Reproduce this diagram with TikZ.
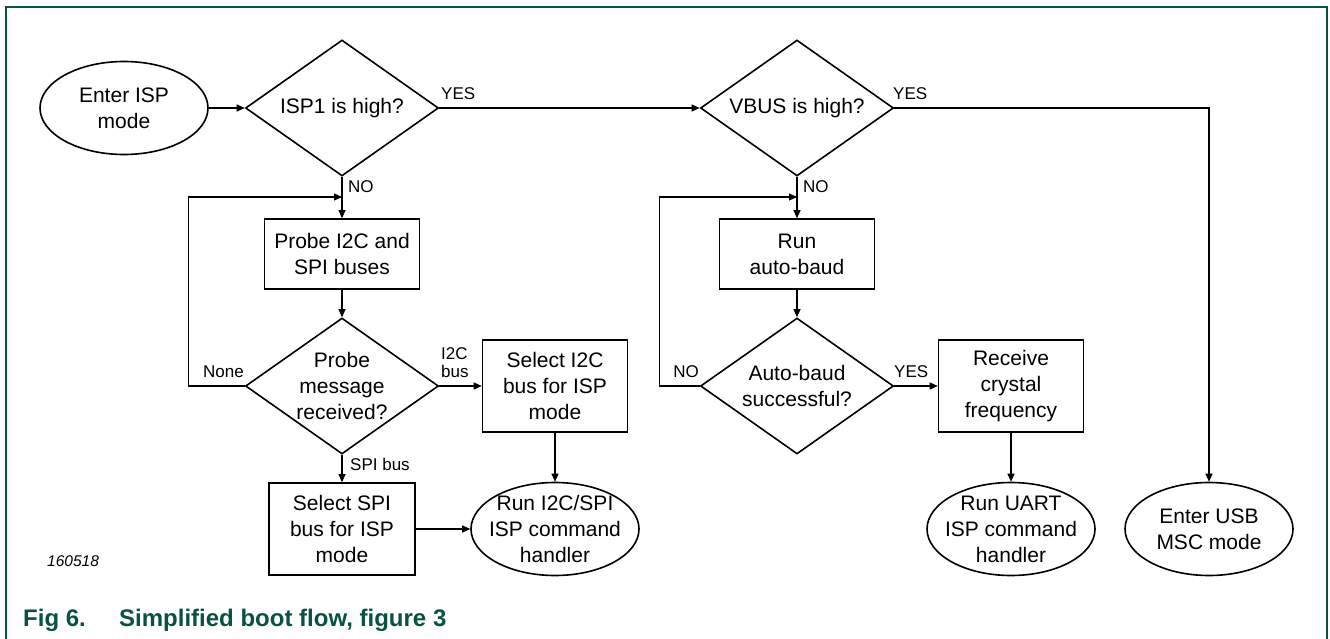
\documentclass[tikz,border=0pt]{standalone}
\usepackage{fontspec}
\setmainfont{Liberation Sans}
\usetikzlibrary{shapes.geometric,arrows.meta}
\definecolor{nxpgreen}{RGB}{8,82,66}
\begin{document}
\begin{tikzpicture}[x=1pt,y=-1pt,
  txt/.style={font=\fontsize{21}{26}\selectfont, align=center, inner sep=0pt},
  lbl/.style={font=\fontsize{17}{18}\selectfont, inner sep=0pt, align=left},
  shp/.style={draw, line width=1.6pt, inner sep=0pt},
  procbox/.style={shp, rectangle},
  termshape/.style={shp, ellipse, minimum width=168pt, minimum height=93pt},
  decide/.style={shp, diamond, minimum width=193pt, minimum height=136pt},
  arr/.style={draw, line width=1.1pt, -{Triangle[length=8pt,width=7pt]}},
  conn/.style={draw, line width=1.1pt}]
\useasboundingbox (0,0) rectangle (1330,639);
% frame
\draw[nxpgreen, line width=1.6pt] (6,639) -- (6,7) -- (1327,7) -- (1327,639);

% left branch
\node[termshape, label={[txt]center:{Enter ISP\\mode}}] (start) at (124,108) {};
\node[decide, label={[txt]center:ISP1 is high?}] (d1) at (342,108) {};
\node[procbox, minimum width=155pt, minimum height=70pt, label={[txt]center:{Probe I2C and\\SPI buses}}] (probe) at (342,254) {};
\node[decide, label={[txt]center:{Probe\\message\\received?}}] (d2) at (342,386) {};
\node[procbox, minimum width=145pt, minimum height=92pt, label={[txt]center:{Select I2C\\bus for ISP\\mode}}] (seli2c) at (555,386) {};
\node[procbox, minimum width=146pt, minimum height=92pt, label={[txt]center:{Select SPI\\bus for ISP\\mode}}] (selspi) at (342,529) {};
\node[termshape, label={[txt]center:{Run I2C/SPI\\ISP command\\handler}}] (runi2c) at (555,529) {};

% right branch
\node[decide, label={[txt]center:VBUS is high?}] (d4) at (797,108) {};
\node[procbox, minimum width=155pt, minimum height=70pt, label={[txt]center:{Run\\auto-baud}}] (baud) at (797,254) {};
\node[decide, label={[txt]center:{Auto-baud\\successful?}}] (d3) at (797,386) {};
\node[procbox, minimum width=145pt, minimum height=92pt, label={[txt]center:{Receive\\crystal\\frequency}}] (recv) at (1011,386) {};
\node[termshape, label={[txt]center:{Run UART\\ISP command\\handler}}] (uart) at (1011,529) {};
\node[termshape, label={[txt]center:{Enter USB\\MSC mode}}] (usb) at (1209,529) {};

\coordinate (j1) at (342,197);
\coordinate (j2) at (797,197);

% connectors
\draw[arr] (start.east) -- (d1.west);
\draw[arr] (d1.east) -- (d4.west);
\draw[arr] (d1.south) -- (probe.north);
\draw[arr] (probe.south) -- (d2.north);
\draw[arr] (d2.west) -- ++(-56,0) |- (j1);
\draw[arr] (d2.east) -- (seli2c.west);
\draw[arr] (d2.south) -- (selspi.north);
\draw[arr] (seli2c.south) -- (runi2c.north);
\draw[arr] (selspi.east) -- (runi2c.west);

\draw[arr] (d4.south) -- (baud.north);
\draw[arr] (baud.south) -- (d3.north);
\draw[arr] (d3.west) -- ++(-40,0) |- (j2);
\draw[arr] (d3.east) -- (recv.west);
\draw[arr] (recv.south) -- (uart.north);
\draw[arr] (d4.east) -| (usb.north);

% connector labels
\node[lbl, anchor=base west] (lyes1) at (441,100) {YES};
\node[lbl, anchor=base west] (lno1) at (348,193) {NO};
\node[lbl, anchor=base east] (lnone) at (244,377) {None};
\node[lbl, anchor=south west] (li2c) at (441,378) {I2C\\bus};
\node[lbl, anchor=base west] (lspi) at (350,470) {SPI bus};
\node[lbl, anchor=base west] (lyes2) at (893,100) {YES};
\node[lbl, anchor=base west] (lno2) at (803,193) {NO};
\node[lbl, anchor=base east] (lno3) at (699,377) {NO};
\node[lbl, anchor=base west] (lyes3) at (894,377) {YES};

% figure id and caption
\node[font=\fontsize{15.5}{17}\selectfont\itshape, inner sep=0pt, anchor=base west] (fid) at (47,566) {160518};
\node[font=\fontsize{24}{26}\selectfont\bfseries, text=nxpgreen, inner sep=0pt, anchor=base west] (cap1) at (23,626) {Fig 6.};
\node[font=\fontsize{24}{26}\selectfont\bfseries, text=nxpgreen, inner sep=0pt, anchor=base west] (cap2) at (119,626) {Simplified boot flow, figure 3};
\end{tikzpicture}
\end{document}
